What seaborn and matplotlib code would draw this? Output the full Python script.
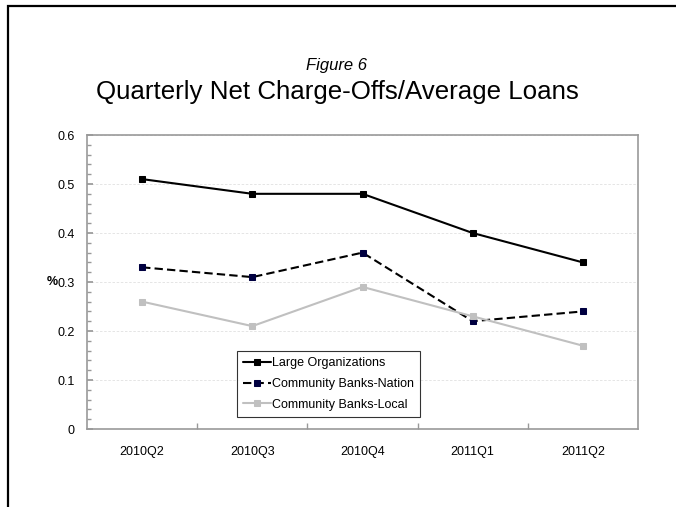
import matplotlib
matplotlib.use("Agg")
import matplotlib.pyplot as plt
from matplotlib.patches import Rectangle
from matplotlib.ticker import MultipleLocator, FixedLocator, FuncFormatter
import numpy as np
import pandas as pd
import seaborn as sns

quarters = ["2010Q2", "2010Q3", "2010Q4", "2011Q1", "2011Q2"]
large_orgs = [0.51, 0.48, 0.48, 0.40, 0.34]
community_nation = [0.33, 0.31, 0.36, 0.22, 0.24]
community_local = [0.26, 0.21, 0.29, 0.23, 0.17]
series_names = ["Large Organizations", "Community Banks-Nation", "Community Banks-Local"]

sns.set_theme(style="white")
plt.rcParams["font.family"] = ["Liberation Sans", "DejaVu Sans"]
plt.rcParams["text.color"] = "black"

df = pd.DataFrame({
    "quarter": quarters * 3,
    "pos": list(range(len(quarters))) * 3,
    "value": large_orgs + community_nation + community_local,
    "series": [s for s in series_names for _ in quarters],
})

fig = plt.figure(figsize=(6.76, 5.07), dpi=100)
ax = fig.add_axes([0.1287, 0.1538, 0.8151, 0.5799])

styles = {
    "Large Organizations": dict(color="black", ls="-", mfc="black", mec="black"),
    "Community Banks-Nation": dict(color="black", ls=(0, (4, 2)), mfc="#000040", mec="#000040"),
    "Community Banks-Local": dict(color="#c0c0c0", ls="-", mfc="#c0c0c0", mec="#c0c0c0"),
}
for name in series_names:
    st = styles[name]
    sub = df[df["series"] == name]
    sns.lineplot(data=sub, x="pos", y="value", ax=ax, color=st["color"],
                 linestyle=st["ls"], linewidth=1.5, marker="s", markersize=4,
                 markerfacecolor=st["mfc"], markeredgecolor=st["mec"],
                 label=name, errorbar=None)

ax.set_xlim(-0.5, len(quarters) - 0.5)
ax.set_ylim(0, 0.6)
ax.set_xlabel("")
ax.set_ylabel("")

ax.xaxis.set_major_locator(FixedLocator(range(len(quarters))))
ax.set_xticklabels(quarters, fontsize=9)
ax.xaxis.set_minor_locator(FixedLocator(np.arange(0.5, len(quarters) - 0.5, 1)))
ax.yaxis.set_major_locator(MultipleLocator(0.1))
ax.yaxis.set_minor_locator(MultipleLocator(0.02))
ax.yaxis.set_major_formatter(FuncFormatter(lambda v, p: "0" if abs(v) < 1e-9 else f"{v:.1f}"))
ax.tick_params(axis="y", labelsize=9)

ax.tick_params(axis="x", which="major", length=0, pad=12, colors="black")
ax.tick_params(axis="x", which="minor", direction="in", length=4, color="#999999", bottom=True)
ax.tick_params(axis="y", which="major", direction="in", length=4, pad=9, color="#999999", left=True)
ax.tick_params(axis="y", which="minor", direction="in", length=3, color="#999999", left=True)
ax.tick_params(labelcolor="black")

ax.grid(axis="y", which="major", color="#e0e0e0", linestyle=(0, (3, 2)), linewidth=0.6)
ax.grid(axis="x", visible=False)
for sp in ax.spines.values():
    sp.set_color("#999999")
    sp.set_linewidth(1.2)

ax.text(-0.053, 0.5, "%", transform=ax.transAxes, fontsize=9, fontweight="bold",
        ha="right", va="center")

leg = ax.legend(loc="lower left", bbox_to_anchor=(0.272, 0.041), fontsize=9,
                frameon=True, fancybox=False, handlelength=2.2, handletextpad=0.1,
                borderpad=0.5, labelspacing=0.7, borderaxespad=0)
leg.get_frame().set_edgecolor("black")
leg.get_frame().set_linewidth(0.8)

fig.text(0.4985, 0.870, "Figure 6", fontsize=12, style="italic",
         ha="center", va="center")
fig.text(0.4985, 0.818, "Quarterly Net Charge-Offs/Average Loans", fontsize=18.6,
         ha="center", va="center")

fig.patches.append(Rectangle((7.5 / 676, -0.1), 1.2, 1 - 5.5 / 507 + 0.1,
                             transform=fig.transFigure, fill=False,
                             edgecolor="black", linewidth=1.6))

fig.savefig("out.png", dpi=100)
